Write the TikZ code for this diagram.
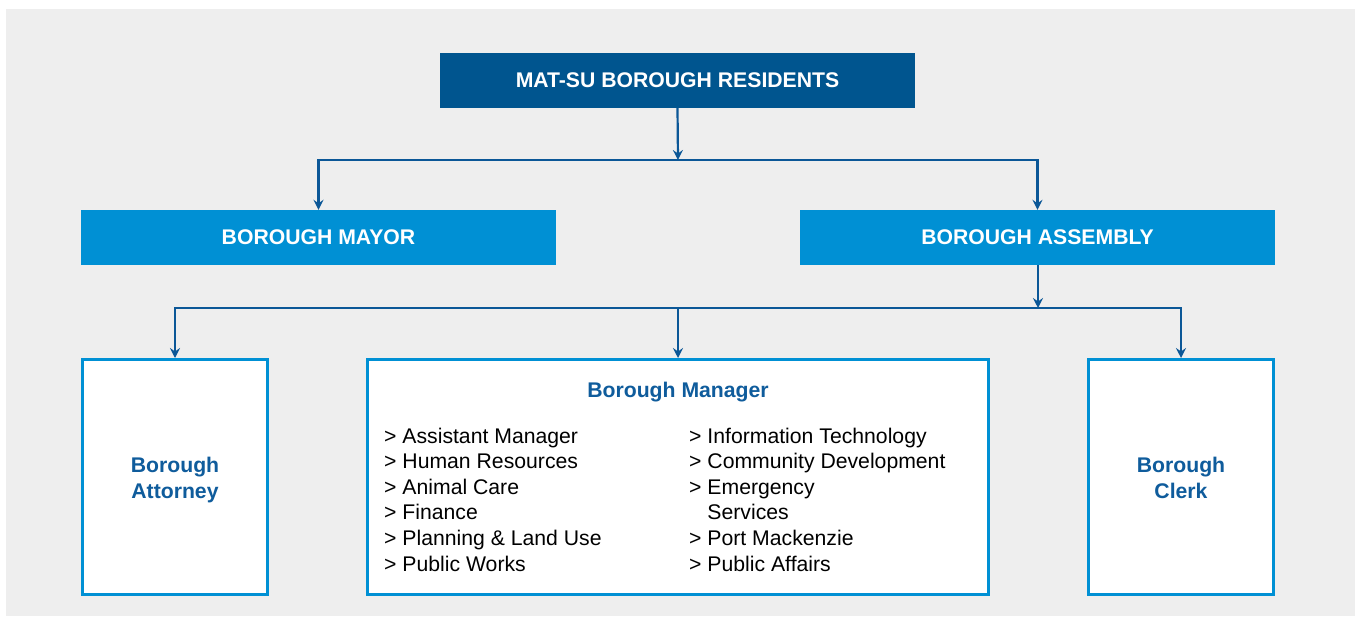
\documentclass[tikz,border=0pt]{standalone}
\usepackage{fontspec}
\setmainfont{Liberation Sans}
\usetikzlibrary{arrows.meta}
\definecolor{darkblue}{HTML}{00558F}
\definecolor{midblue}{HTML}{0090D4}
\definecolor{lineblue}{HTML}{0B5797}
\definecolor{textblue}{HTML}{0F5C9C}
\definecolor{bggray}{HTML}{EEEEEE}
\tikzset{
  fbox/.style={fill=#1, text=white, inner sep=0pt, minimum width=475pt, minimum height=55pt,
    font=\fontsize{21.2}{25}\selectfont\bfseries},
  obox/.style={draw=midblue, line width=3pt, fill=white, inner sep=0pt, minimum height=235pt},
  sidetxt/.style={align=center, text=textblue, inner sep=0pt, font=\fontsize{21.2}{26}\selectfont\bfseries},
  conn/.style={draw=lineblue, line width=2.2pt},
  arr/.style={conn, -{Stealth[length=10pt,width=10pt,inset=3.5pt]}},
  listtxt/.style={anchor=north west, inner sep=0pt, align=left, font=\fontsize{21.2}{25.6}\selectfont, text=black}
}
\begin{document}
\begin{tikzpicture}[x=1pt,y=-1pt]
\useasboundingbox (0,0) rectangle (1355,616);
\fill[bggray] (6,9) rectangle (1355,616);

\node[fbox=darkblue] (res) at (677.5,80.5) {MAT-SU BOROUGH RESIDENTS};
\node[fbox=midblue] (mayor) at (318.5,237.5) {BOROUGH MAYOR};
\node[fbox=midblue] (assembly) at (1037.5,237.5) {BOROUGH ASSEMBLY};

\node[obox, minimum width=185pt] (attorney) at (175,477) {};
\node[obox, minimum width=621pt] (manager) at (678,477) {};
\node[obox, minimum width=185pt] (clerk) at (1181,477) {};

\node[sidetxt] (atttxt) at (175,480) {Borough\\Attorney};
\node[sidetxt] (clerktxt) at (1181,478) {Borough\\Clerk};

\node[text=textblue, font=\fontsize{21.2}{25}\selectfont\bfseries, inner sep=0pt] (mtitle) at (678,392) {Borough Manager};
\node[listtxt] (lleft) at (384,427.5) {> Assistant Manager\\> Human Resources\\> Animal Care\\> Finance\\> Planning \& Land Use\\> Public Works};
\node[listtxt] (lright) at (689,427.5) {> Information Technology\\> Community Development\\> Emergency\\\phantom{> }Services\\> Port Mackenzie\\> Public Affairs};

\coordinate (j1) at (678,160);
\coordinate (j2) at (1038,308);
\draw[arr] (res.south) -- (j1);
\draw[arr] (j1) -| (mayor.north);
\draw[arr] (j1) -| (assembly.north);
\draw[arr] (assembly.south -| j2) -- (j2);
\draw[arr] (j2) -| (attorney.north);
\draw[arr] (j2) -| (clerk.north);
\draw[arr] (j2 -| manager.north) -- (manager.north);
\end{tikzpicture}
\end{document}
